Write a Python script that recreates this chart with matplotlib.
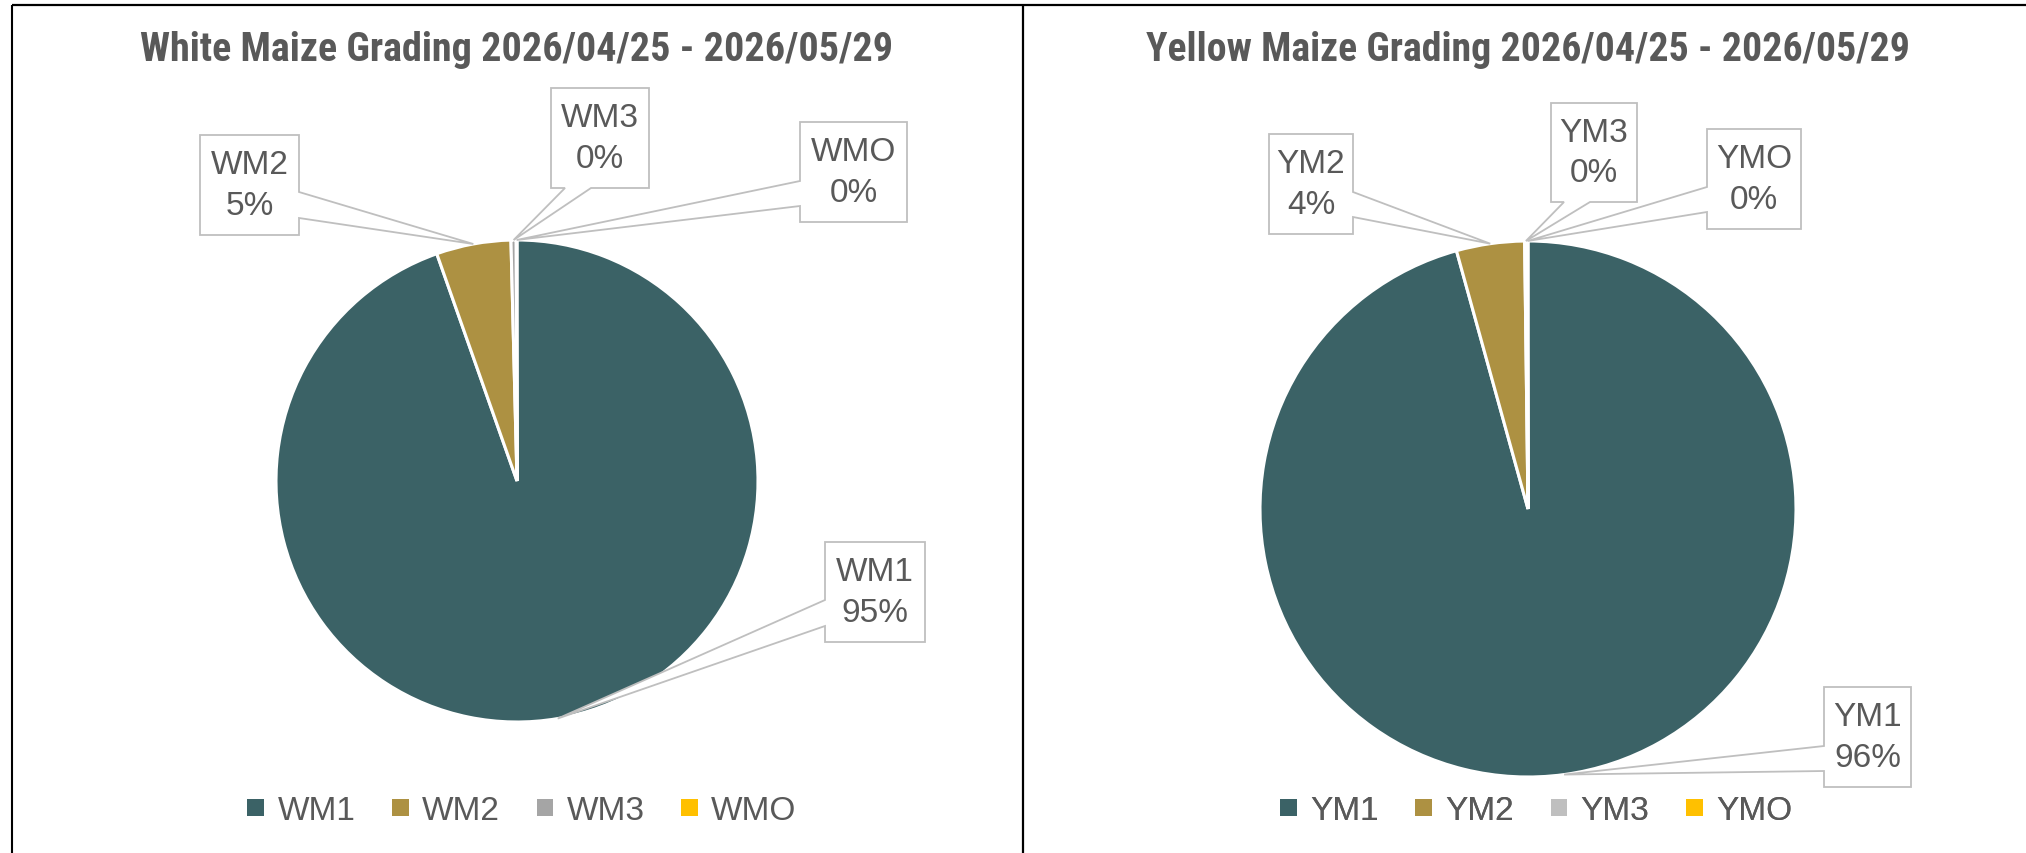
import matplotlib
matplotlib.use('Agg')
import matplotlib.pyplot as plt
from matplotlib.patches import Polygon
from matplotlib import font_manager as fm
import numpy as np

# ---------------- data ----------------
white_title = 'White Maize Grading 2026/04/25 - 2026/05/29'
white_cats = ['WM1', 'WM2', 'WM3', 'WMO']
white_vals = [94.6, 5.0, 0.35, 0.05]
white_colors = ['#3B6266', '#AD9142', '#A5A5A5', '#FFC000']

yellow_title = 'Yellow Maize Grading 2026/04/25 - 2026/05/29'
yellow_cats = ['YM1', 'YM2', 'YM3', 'YMO']
yellow_vals = [95.7, 4.1, 0.15, 0.05]
yellow_colors = ['#3B6266', '#AD9142', '#BFBFBF', '#FFC000']

# ---------------- layout (pixels, y measured from top) ----------------
W, H, DPI = 2026, 854, 100
TXT = '#595959'
BOXC = '#BFBFBF'

available = {f.name for f in fm.fontManager.ttflist}
def pick(cands):
    for c in cands:
        if c in available:
            return c
    return 'DejaVu Sans'

title_font = pick(['Liberation Sans Narrow', 'DejaVu Sans Condensed', 'Roboto Condensed', 'Liberation Sans'])
label_font = pick(['Liberation Sans', 'Roboto', 'DejaVu Sans'])

fig = plt.figure(figsize=(W / DPI, H / DPI), dpi=DPI)
ax = fig.add_axes([0, 0, 1, 1])
ax.set_xlim(0, W)
ax.set_ylim(0, H)
ax.set_aspect('equal')
ax.axis('off')

def Y(y):
    return H - y

# outer frame and divider
ax.plot([11.5, 11.5], [Y(5.8), 0], color='black', lw=1.5, solid_capstyle='butt')
ax.plot([11.5, W], [Y(5.8), Y(5.8)], color='black', lw=1.6, solid_capstyle='butt')
ax.plot([1023, 1023], [Y(5.8), 0], color='black', lw=1.6, solid_capstyle='butt')

renderer = fig.canvas.get_renderer()

panels = [
    dict(title=white_title, cats=white_cats, vals=white_vals, colors=white_colors,
         center=(517, 482), r=241, title_xy=(517, 50), title_w=755, legend_x=522,
         boxes=[
             dict(box=(825, 543, 925, 643), side='left', base=(601, 627)),
             dict(box=(200, 136, 299, 236), side='right', base=(193, 219)),
             dict(box=(551, 89, 649, 189), side='bottom', base=(565, 591)),
             dict(box=(800, 123, 907, 223), side='left', base=(182, 207)),
         ]),
    dict(title=yellow_title, cats=yellow_cats, vals=yellow_vals, colors=yellow_colors,
         center=(1528, 510), r=268, title_xy=(1528, 50), title_w=765, legend_x=1536,
         boxes=[
             dict(box=(1824, 688, 1911, 788), side='left', base=(747, 772)),
             dict(box=(1269, 135, 1353, 235), side='right', base=(193, 218)),
             dict(box=(1551, 104, 1637, 203), side='bottom', base=(1564, 1590)),
             dict(box=(1707, 130, 1801, 230), side='left', base=(188, 213)),
         ]),
]

for p in panels:
    cx, cy = p['center']
    wedges, _ = ax.pie(p['vals'], colors=p['colors'], startangle=90, counterclock=False,
                       center=(cx, Y(cy)), radius=p['r'], frame=True,
                       wedgeprops=dict(edgecolor='white', linewidth=2.2))
    total = sum(p['vals'])
    for w, cat, v, spec in zip(wedges, p['cats'], p['vals'], p['boxes']):
        mid = np.deg2rad((w.theta1 + w.theta2) / 2)
        tip = (cx + p['r'] * np.cos(mid), Y(cy) + p['r'] * np.sin(mid))
        x0, y0, x1, y1 = spec['box']
        b0, b1 = spec['base']
        pts_up = [(x0, Y(y0)), (x1, Y(y0))]
        if spec['side'] == 'right':
            pts_up += [(x1, Y(b0)), tip, (x1, Y(b1))]
        pts_up += [(x1, Y(y1))]
        if spec['side'] == 'bottom':
            pts_up += [(b1, Y(y1)), tip, (b0, Y(y1))]
        pts_up += [(x0, Y(y1))]
        if spec['side'] == 'left':
            pts_up += [(x0, Y(b1)), tip, (x0, Y(b0))]
        poly = Polygon(pts_up, closed=True, facecolor='white', edgecolor=BOXC,
                       linewidth=1.3, joinstyle='miter', zorder=5)
        ax.add_patch(poly)
        pct = round(v / total * 100)
        ax.text((x0 + x1) / 2, Y((y0 + y1) / 2), f'{cat}\n{pct}%', ha='center', va='center',
                fontsize=24, color=TXT, family=label_font, linespacing=1.4, zorder=6)

    t = ax.text(p['title_xy'][0], Y(p['title_xy'][1]), p['title'], ha='center', va='center',
                fontsize=24, fontweight='bold', color=TXT, family=title_font)
    bb = t.get_window_extent(renderer)
    t.set_fontsize(24 * p['title_w'] / bb.width)

    leg = ax.legend(wedges, p['cats'], loc='center', ncol=4, frameon=False,
                    bbox_to_anchor=(p['legend_x'] / W, Y(812) / H),
                    prop=dict(family=label_font, size=24), labelcolor=TXT,
                    handlelength=0.5, handleheight=0.39, handletextpad=0.4,
                    columnspacing=1.1, borderaxespad=0, borderpad=0)
    for h in leg.legend_handles:
        h.set_edgecolor('none')
    ax.add_artist(leg)

ax.set_xlim(0, W)
ax.set_ylim(0, H)
fig.savefig('out.png', dpi=DPI)
